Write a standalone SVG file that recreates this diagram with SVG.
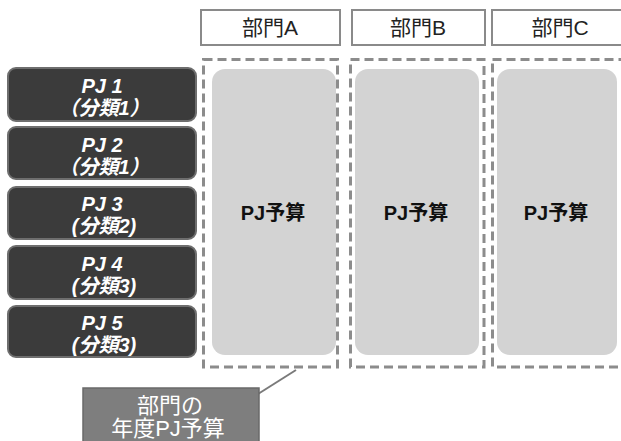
<svg xmlns="http://www.w3.org/2000/svg" width="621" height="441" viewBox="0 0 621 441">
<style>
.hdr rect{fill:#fff;stroke:#8a8a8a;stroke-width:2}
.hdr text{font-family:"Liberation Sans","Noto Sans CJK JP",sans-serif;font-size:21px;fill:#222;text-anchor:middle}
.dash{fill:none;stroke:#8c8c8c;stroke-width:3;stroke-dasharray:9 5}
.inner{fill:#d3d3d3}
.bud{font-family:"Liberation Sans","Noto Sans CJK JP",sans-serif;font-size:20px;font-weight:bold;fill:#111;text-anchor:middle}
.pj rect{fill:#3b3b3b;stroke:#6e6e6e;stroke-width:2}
.pj text{font-family:"Liberation Sans","Noto Sans CJK JP",sans-serif;font-size:20px;font-weight:bold;font-style:italic;fill:#fff;text-anchor:middle}
.call rect{fill:#7e7e7e;stroke:#6a6a6a;stroke-width:1.5}
.call text{font-family:"Liberation Sans","Noto Sans CJK JP",sans-serif;font-size:22px;fill:#fff;text-anchor:middle}
</style>
<rect width="621" height="441" fill="#fff"/>

<g id="hdrA" class="hdr"><rect x="201" y="10" width="139" height="35"/><text x="270" y="35">部門A</text></g>
<g id="hdrB" class="hdr"><rect x="352" y="10" width="133" height="35"/><text x="418" y="35">部門B</text></g>
<g id="hdrC" class="hdr"><rect x="492" y="10" width="140" height="35"/><text x="560" y="35">部門C</text></g>

<g id="deptA">
<rect class="dash" x="203.5" y="59.5" width="134" height="307.5"/>
<rect class="inner" x="212" y="69" width="124" height="286" rx="13"/>
<text class="bud" x="273" y="220">PJ予算</text>
</g>
<g id="deptB">
<rect class="dash" x="350.5" y="59.5" width="133.5" height="307.5"/>
<rect class="inner" x="355" y="69" width="124" height="286" rx="13"/>
<text class="bud" x="416" y="220">PJ予算</text>
</g>
<g id="deptC">
<rect class="dash" x="492.5" y="59.5" width="140" height="307.5"/>
<rect class="inner" x="497" y="69" width="120" height="286" rx="13"/>
<text class="bud" x="556" y="220">PJ予算</text>
</g>

<g id="pj1" class="pj"><rect x="8" y="68" width="188" height="53" rx="8"/><text x="102" y="93">PJ 1</text><text x="104" y="115">（分類1）</text></g>
<g id="pj2" class="pj"><rect x="8" y="127" width="188" height="52" rx="8"/><text x="102" y="152">PJ 2</text><text x="104" y="174">（分類1）</text></g>
<g id="pj3" class="pj"><rect x="8" y="187" width="188" height="52" rx="8"/><text x="102" y="211">PJ 3</text><text x="104" y="233">(分類2)</text></g>
<g id="pj4" class="pj"><rect x="8" y="246" width="188" height="53" rx="8"/><text x="102" y="271">PJ 4</text><text x="104" y="293">(分類3)</text></g>
<g id="pj5" class="pj"><rect x="8" y="306" width="188" height="51" rx="8"/><text x="102" y="330">PJ 5</text><text x="104" y="352">(分類3)</text></g>

<g id="connectors"><line x1="258" y1="394" x2="296" y2="370" stroke="#7a7a7a" stroke-width="2"/></g>

<g id="callout" class="call"><rect x="83" y="388" width="176" height="60"/><text x="170" y="413">部門の</text><text x="168" y="436">年度PJ予算</text></g>
</svg>
